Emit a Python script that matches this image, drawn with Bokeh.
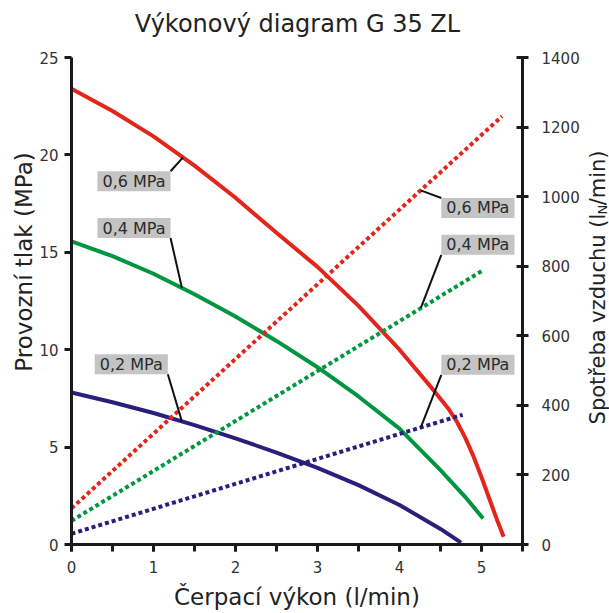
import numpy as np
from bokeh.plotting import figure
from bokeh.layouts import row, column
from bokeh.models import Range1d, LinearAxis, SingleIntervalTicker
from bokeh.embed import file_html
from bokeh.resources import INLINE
from bokeh.core.properties import value

# ---- data ----
flow_06 = [0, 0.5, 1.0, 1.5, 2.0, 2.5, 3.0, 3.5, 4.0, 4.4, 4.6, 4.7, 4.8, 4.9, 5.0, 5.1, 5.2, 5.27]
press_06 = [23.4, 22.25, 20.95, 19.45, 17.8, 16.0, 14.25, 12.25, 10.0, 8.0, 6.95, 6.3, 5.5, 4.55, 3.45, 2.3, 1.15, 0.4]

flow_04 = [0, 0.5, 1.0, 1.5, 2.0, 2.5, 3.0, 3.5, 4.0, 4.5, 4.8, 5.02]
press_04 = [15.56, 14.8, 13.9, 12.85, 11.7, 10.45, 9.1, 7.6, 5.95, 3.82, 2.45, 1.33]

flow_02 = [0, 0.5, 1.0, 1.5, 2.0, 2.5, 3.0, 3.5, 4.0, 4.5, 4.75]
press_02 = [7.8, 7.3, 6.75, 6.13, 5.45, 4.72, 3.93, 3.05, 2.03, 0.8, 0.1]

air_flow_06 = [0, 5.25]
air_06 = [104, 1231]
air_flow_04 = [0, 5.01]
air_04 = [68, 787]
air_flow_02 = [0, 4.77]
air_02 = [31, 373]

label_texts = ["0,6 MPa", "0,4 MPa", "0,2 MPa"]
title_text = "Výkonový diagram G 35 ZL"
left_title = "Provozní tlak (MPa)"
right_title_parts = ["Spotřeba vzduchu (l", "N", "/min)"]

RED = "#e3251c"
GREEN = "#009640"
BLUE = "#2a1f7a"
FONT = "DejaVu Sans"
TXT = "#2b2b2b"
TITLE_C = "#222222"

W, H = 609, 613
TOP_H = 45          # strip holding the chart title
LEFT_W = 36         # strip holding the left axis title
RIGHT_W = 26        # strip holding the right axis title
MAIN_H = H - TOP_H
MAIN_W = W - LEFT_W - RIGHT_W


def strip(width, height):
    f = figure(width=width, height=height, output_backend="svg", toolbar_location=None,
               x_range=Range1d(0, width), y_range=Range1d(0, height),
               x_axis_type=None, y_axis_type=None, min_border=0, title_location=None)
    f.outline_line_color = None
    f.background_fill_color = "white"
    f.border_fill_color = "white"
    return f


def page_y(y):
    """page pixel row -> data y of a strip in the main row"""
    return MAIN_H - (y - TOP_H)


# ---- main chart ----
p = figure(width=MAIN_W, height=MAIN_H, output_backend="svg", toolbar_location=None,
           x_range=Range1d(0, 5.5), y_range=Range1d(0, 25), title_location=None,
           min_border_left=34, min_border_right=61, min_border_top=12, min_border_bottom=69)
p.extra_y_ranges = {"air": Range1d(0, 1400)}
p.xgrid.visible = False
p.ygrid.visible = False
p.outline_line_color = None
p.background_fill_color = "white"
p.border_fill_color = "white"


def style_axis(ax):
    ax.axis_line_width = 3
    ax.axis_line_color = "#1a1a1a"
    ax.major_tick_line_width = 3
    ax.major_tick_line_color = "#1a1a1a"
    ax.major_label_text_font = FONT
    ax.major_label_text_font_size = "15px"
    ax.major_label_text_color = "#333333"


# bottom axis
xa = p.xaxis[0]
xa.ticker = SingleIntervalTicker(interval=1, num_minor_ticks=2)
style_axis(xa)
xa.major_tick_out = 7
xa.major_tick_in = 0
xa.minor_tick_out = 7
xa.minor_tick_in = 0
xa.minor_tick_line_width = 3
xa.minor_tick_line_color = "#1a1a1a"
xa.major_label_standoff = 9
xa.axis_label = "Čerpací výkon (l/min)"
xa.axis_label_text_font = FONT
xa.axis_label_text_font_size = "23px"
xa.axis_label_text_font_style = "normal"
xa.axis_label_text_color = TITLE_C
xa.axis_label_standoff = 8

# left axis
ya = p.yaxis[0]
ya.ticker = SingleIntervalTicker(interval=5, num_minor_ticks=0)
style_axis(ya)
ya.major_tick_out = 7
ya.major_tick_in = 0
ya.minor_tick_line_color = None
ya.major_label_standoff = 6

# right axis
ra = LinearAxis(y_range_name="air", ticker=SingleIntervalTicker(interval=200, num_minor_ticks=0))
style_axis(ra)
ra.major_tick_out = 6
ra.major_tick_in = 6
ra.minor_tick_line_color = None
ra.major_label_standoff = 13
p.add_layout(ra, "right")

# pressure curves (left axis)
for fx, py, c in [(flow_06, press_06, RED), (flow_04, press_04, GREEN), (flow_02, press_02, BLUE)]:
    p.line(fx, py, line_color=c, line_width=4, line_join="round")

# air consumption (right axis), dotted
for fx, ay, c in [(air_flow_06, air_06, RED), (air_flow_04, air_04, GREEN), (air_flow_02, air_02, BLUE)]:
    p.line(fx, ay, y_range_name="air", line_color=c, line_width=4, line_dash="4 3", line_cap="butt")

# ---- annotation boxes with leader lines ----
scale = 25.0 / 1400.0  # right-axis value -> left-axis units
box_w = 0.892
box_h = 1.03
left_boxes = [(0.316, 19.16, 1.36, flow_06, press_06, "t"),
              (0.316, 16.76, 1.347, flow_04, press_04, "b"),
              (0.283, 9.77, 1.346, flow_02, press_02, "b")]
right_boxes = [(4.51, 17.79, 4.258, air_flow_06, air_06, "t"),
               (4.51, 15.90, 4.26, air_flow_04, air_04, "b"),
               (4.51, 9.74, 4.26, air_flow_02, air_02, "b")]

x0s, y0s, x1s, y1s = [], [], [], []
lefts, rights, tops, bottoms, cx, cy, texts = [], [], [], [], [], [], []
for side, boxes in (("L", left_boxes), ("R", right_boxes)):
    for i, (bl, bt, ax_, fx, fy, corner) in enumerate(boxes):
        br = bl + box_w
        bb = bt - box_h
        lefts.append(bl); rights.append(br); tops.append(bt); bottoms.append(bb)
        cx.append((bl + br) / 2); cy.append((bt + bb) / 2); texts.append(label_texts[i])
        x0s.append(br if side == "L" else bl)
        y0s.append(bt if corner == "t" else bb)
        yy = float(np.interp(ax_, fx, fy))
        x1s.append(ax_)
        y1s.append(yy if side == "L" else yy * scale)

p.segment(x0=x0s, y0=y0s, x1=x1s, y1=y1s, line_color="#111111", line_width=2)
p.quad(left=lefts, right=rights, top=tops, bottom=bottoms, fill_color="#c4c4c4", line_color=None)
p.text(x=cx, y=cy, text=texts, text_align="center", text_baseline="middle",
       text_font=value(FONT), text_font_size="16px", text_color=TXT)

# ---- title strip ----
pt = strip(W, TOP_H)
pt.text(x=[297], y=[TOP_H - 23.7], text=[title_text], text_align="center", text_baseline="middle",
        text_font=value(FONT), text_font_size="24px", text_color=TITLE_C)

# ---- left strip: left axis title ----
pl = strip(LEFT_W, MAIN_H)
pl.text(x=[23.5], y=[page_y(283.5)], text=[left_title], angle=np.pi / 2,
        text_align="center", text_baseline="middle",
        text_font=value(FONT), text_font_size="23px", text_color=TITLE_C)

# ---- right strip: right axis title with subscript N (parts joined at the N) ----
pr = strip(RIGHT_W, MAIN_H)
pr.text(x=[14], y=[page_y(227.2)], text=[right_title_parts[0]],
        angle=np.pi / 2, text_align="right", text_baseline="middle",
        text_font=value(FONT), text_font_size="21px", text_color=TITLE_C)
pr.text(x=[19], y=[page_y(222.3)], text=[right_title_parts[1]],
        angle=np.pi / 2, text_align="center", text_baseline="middle",
        text_font=value(FONT), text_font_size="13px", text_color=TITLE_C)
pr.text(x=[14], y=[page_y(217.4)], text=[right_title_parts[2]],
        angle=np.pi / 2, text_align="left", text_baseline="middle",
        text_font=value(FONT), text_font_size="21px", text_color=TITLE_C)

layout = column(pt, row(pl, p, pr, spacing=0), spacing=0)
open("out.html", "w").write(file_html(layout, INLINE))
